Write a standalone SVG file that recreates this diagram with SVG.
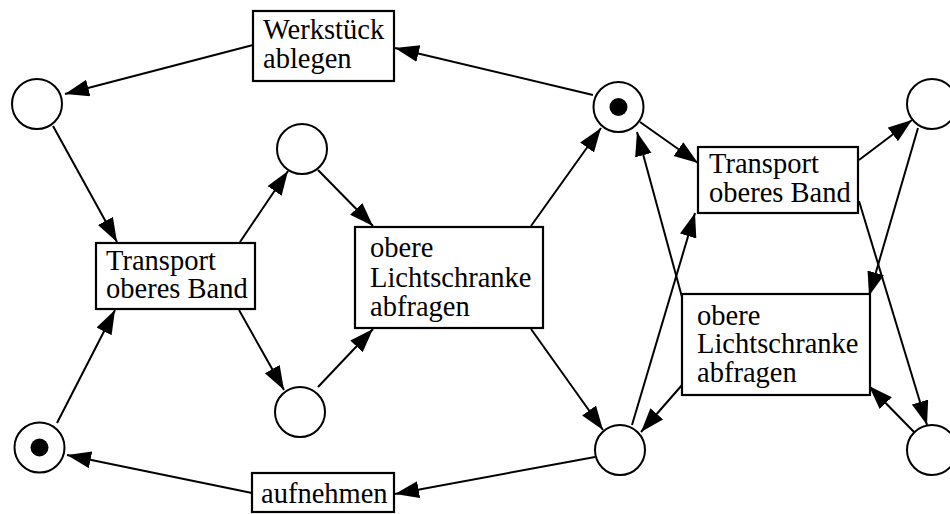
<svg xmlns="http://www.w3.org/2000/svg" width="950" height="514" viewBox="0 0 950 514">
  <style>
    .place { fill: #fff; stroke: #000; stroke-width: 2; }
    .token { fill: #000; }
    .trans { fill: #fff; stroke: #000; stroke-width: 2.2; }
    .label { font-family: "Liberation Serif", "Times New Roman", serif; font-size: 28.5px; fill: #000; }
    .arc { fill: none; stroke: #000; stroke-width: 2; marker-end: url(#head); }
  </style>
  <defs>
    <marker id="head" markerUnits="userSpaceOnUse" markerWidth="26" markerHeight="20" refX="24" refY="8.5" orient="auto">
      <path d="M0,0 L24,8.5 L0,17 z" fill="#000"/>
    </marker>
  </defs>

  <g id="arcs">
    <line class="arc" x1="253" y1="45" x2="65" y2="94"/>
    <line class="arc" x1="593" y1="95" x2="395" y2="48"/>
    <line class="arc" x1="53" y1="126" x2="117" y2="242"/>
    <line class="arc" x1="240" y1="242" x2="288" y2="171"/>
    <line class="arc" x1="318" y1="170" x2="373" y2="226"/>
    <line class="arc" x1="239" y1="310" x2="284" y2="390"/>
    <line class="arc" x1="318" y1="387" x2="373" y2="329"/>
    <line class="arc" x1="57" y1="423" x2="115" y2="310"/>
    <line class="arc" x1="252" y1="493" x2="67" y2="455"/>
    <line class="arc" x1="595" y1="457" x2="395" y2="494"/>
    <line class="arc" x1="531" y1="226" x2="601" y2="128"/>
    <line class="arc" x1="531" y1="329" x2="603" y2="430"/>
    <line class="arc" x1="640" y1="122" x2="698" y2="163"/>
    <line class="arc" x1="859" y1="160" x2="912" y2="120"/>
    <line class="arc" x1="918" y1="128" x2="869" y2="296"/>
    <line class="arc" x1="859" y1="201" x2="927" y2="425"/>
    <line class="arc" x1="914" y1="432" x2="869" y2="386"/>
    <line class="arc" x1="682" y1="385" x2="641" y2="432"/>
    <line class="arc" x1="632" y1="425" x2="695" y2="213"/>
    <line class="arc" x1="682" y1="297" x2="637" y2="132"/>
  </g>

  <g id="p1"><circle class="place" cx="37" cy="104" r="25"/></g>
  <g id="p2"><circle class="place" cx="302" cy="149" r="25"/></g>
  <g id="p3"><circle class="place" cx="618.5" cy="107" r="25"/><circle class="token" cx="618.5" cy="107" r="9"/></g>
  <g id="p4"><circle class="place" cx="932" cy="104" r="25"/></g>
  <g id="p5"><circle class="place" cx="300" cy="412" r="25"/></g>
  <g id="p6"><circle class="place" cx="39.5" cy="447.5" r="25"/><circle class="token" cx="39.5" cy="447.5" r="9"/></g>
  <g id="p7"><circle class="place" cx="620" cy="450" r="25"/></g>
  <g id="p8"><circle class="place" cx="932" cy="450" r="25"/></g>

  <g id="t-ablegen">
    <rect class="trans" x="253" y="11" width="141" height="70"/>
    <text class="label" x="263" y="39">Werkstück</text>
    <text class="label" x="263" y="68">ablegen</text>
  </g>
  <g id="t-transport-1">
    <rect class="trans" x="96" y="243" width="159" height="66"/>
    <text class="label" x="106" y="270">Transport</text>
    <text class="label" x="106" y="298">oberes Band</text>
  </g>
  <g id="t-lichtschranke-1">
    <rect class="trans" x="355" y="227" width="188" height="101"/>
    <text class="label" x="370" y="257">obere</text>
    <text class="label" x="370" y="287">Lichtschranke</text>
    <text class="label" x="370" y="316">abfragen</text>
  </g>
  <g id="t-transport-2">
    <rect class="trans" x="698" y="147" width="160" height="66"/>
    <text class="label" x="709" y="173">Transport</text>
    <text class="label" x="709" y="202">oberes Band</text>
  </g>
  <g id="t-lichtschranke-2">
    <rect class="trans" x="682" y="294" width="188" height="101"/>
    <text class="label" x="697" y="325">obere</text>
    <text class="label" x="697" y="353">Lichtschranke</text>
    <text class="label" x="697" y="382">abfragen</text>
  </g>
  <g id="t-aufnehmen">
    <rect class="trans" x="252" y="473" width="142" height="39"/>
    <text class="label" x="261" y="503">aufnehmen</text>
  </g>
</svg>
